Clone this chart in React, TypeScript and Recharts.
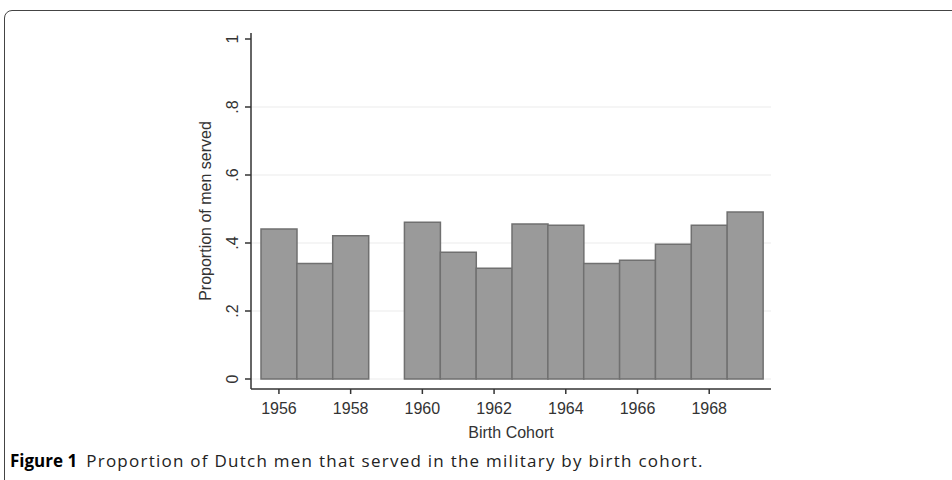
import { BarChart, Bar, XAxis, YAxis, CartesianGrid } from 'recharts'

const years = [1956, 1957, 1958, 1959, 1960, 1961, 1962, 1963, 1964, 1965, 1966, 1967, 1968, 1969]
const proportions = [0.441, 0.34, 0.421, null, 0.461, 0.373, 0.326, 0.456, 0.452, 0.34, 0.349, 0.396, 0.452, 0.491]
const yTicks = [0, 0.2, 0.4, 0.6, 0.8, 1]
const yTickLabels = ['0', '.2', '.4', '.6', '.8', '1']
const gridValues = [0, 0.2, 0.4, 0.6, 0.8]

const data = years.map((year, i) => ({ year, value: proportions[i] }))

const axisFont = '"Liberation Sans", Arial, sans-serif'

function YTick(props: any) {
  const { x, y, payload } = props
  const idx = yTicks.indexOf(payload.value)
  const cx = x - 11
  return (
    <text
      x={cx}
      y={y}
      transform={`rotate(-90, ${cx}, ${y})`}
      textAnchor="middle"
      dominantBaseline="central"
      fontSize={16}
      fontFamily={axisFont}
      fill="#333"
    >
      {yTickLabels[idx]}
    </text>
  )
}

export default function App() {
  return (
    <div style={{ position: 'absolute', left: 0, top: 0, width: 952, height: 480, background: '#fff', overflow: 'hidden' }}>
      {/* figure frame */}
      <div
        style={{
          position: 'absolute',
          left: 4,
          top: 10,
          width: 980,
          height: 500,
          border: '1.5px solid #444',
          borderRadius: 8,
        }}
      />
      <div style={{ position: 'absolute', left: 0, top: 0 }}>
        <BarChart
          width={952}
          height={450}
          data={data}
          margin={{ top: 33, right: 181, bottom: 11, left: 191 }}
          barCategoryGap={0}
          barGap={0}
        >
          <CartesianGrid vertical={false} horizontalValues={gridValues} stroke="#ebebeb" strokeWidth={1} />
          <XAxis
            dataKey="year"
            type="category"
            interval={1}
            height={50}
            padding={{ left: 10, right: 8 }}
            axisLine={{ stroke: '#333', strokeWidth: 1.5 }}
            tickLine={{ stroke: '#333', strokeWidth: 1.5 }}
            tickSize={5}
            tick={{ fontSize: 16, fontFamily: axisFont, fill: '#333', dy: 7 }}
            label={{ value: 'Birth Cohort', position: 'insideBottom', offset: 1, fontSize: 16, fontFamily: axisFont, fill: '#333' }}
          />
          <YAxis
            type="number"
            domain={[0, 1]}
            ticks={yTicks}
            width={60}
            padding={{ top: 6, bottom: 10 }}
            axisLine={{ stroke: '#333', strokeWidth: 1.5 }}
            tickLine={{ stroke: '#333', strokeWidth: 1.5 }}
            tickSize={6}
            tick={<YTick />}
            label={{
              value: 'Proportion of men served',
              angle: -90,
              position: 'insideLeft',
              offset: 14,
              style: { textAnchor: 'middle' },
              fontSize: 16,
              fontFamily: axisFont,
              fill: '#333',
            }}
          />
          <Bar dataKey="value" fill="#9a9a9a" stroke="#707070" strokeWidth={1.5} isAnimationActive={false} />
        </BarChart>
      </div>
      <div
        style={{
          position: 'absolute',
          left: 10,
          top: 449,
          fontFamily: '"Open Sans", "Noto Sans", sans-serif',
          fontSize: 17,
          color: '#222',
          whiteSpace: 'nowrap',
        }}
      >
        <b style={{ color: '#000' }}>Figure 1</b>
        <span style={{ marginLeft: 9, letterSpacing: 1.25 }}>Proportion of Dutch men that served in the military by birth cohort.</span>
      </div>
    </div>
  )
}
